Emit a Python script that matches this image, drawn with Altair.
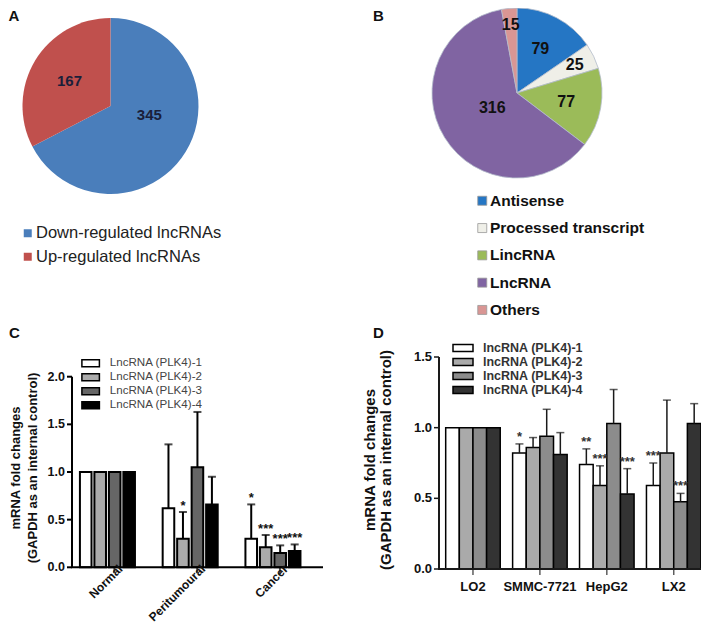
import altair as alt
import pandas as pd

FONT = "Liberation Sans, Arial, sans-serif"

# ---------------- Panel A ----------------
a_cats = ["Down-regulated lncRNAs", "Up-regulated lncRNAs"]
a_vals = [345, 167]
a_cols = ["#4a7ebb", "#c0504d"]

# ---------------- Panel B ----------------
b_cats = ["Antisense", "Processed transcript", "LincRNA", "LncRNA", "Others"]
b_vals = [79, 25, 77, 316, 15]
b_cols = ["#2576c4", "#efefe8", "#9bbb59", "#8064a2", "#d99694"]

# ---------------- Panel C ----------------
c_groups = ["Normal", "Peritumoural", "Cancer"]
c_series = ["LncRNA (PLK4)-1", "LncRNA (PLK4)-2", "LncRNA (PLK4)-3", "LncRNA (PLK4)-4"]
c_mean = [[1.0, 1.0, 1.0, 1.0],
          [0.62, 0.30, 1.05, 0.66],
          [0.30, 0.21, 0.15, 0.17]]
c_upper = [[None, None, None, None],
           [1.29, 0.58, 1.63, 0.95],
           [0.66, 0.34, 0.23, 0.24]]
c_stars = [["", "", "", ""],
           ["", "*", "", ""],
           ["*", "***", "***", "***"]]
c_cols = ["#ffffff", "#ababab", "#666666", "#000000"]
c_yticks = [0.0, 0.5, 1.0, 1.5, 2.0]

# ---------------- Panel D ----------------
d_groups = ["LO2", "SMMC-7721", "HepG2", "LX2"]
d_series = ["lncRNA (PLK4)-1", "lncRNA (PLK4)-2", "lncRNA (PLK4)-3", "lncRNA (PLK4)-4"]
d_mean = [[1.0, 1.0, 1.0, 1.0],
          [0.82, 0.86, 0.94, 0.81],
          [0.74, 0.59, 1.03, 0.53],
          [0.59, 0.82, 0.475, 1.03]]
d_upper = [[None, None, None, None],
           [0.885, 0.93, 1.13, 0.965],
           [0.85, 0.73, 1.27, 0.71],
           [0.75, 1.195, 0.535, 1.17]]
d_stars = [["", "", "", ""],
           ["*", "", "", ""],
           ["**", "***", "", "***"],
           ["***", "", "***", ""]]
d_cols = ["#ffffff", "#aaaaaa", "#8c8c8c", "#333333"]
d_yticks = [0.0, 0.5, 1.0, 1.5]

y_title = ["mRNA fold changes", "(GAPDH as an internal control)"]
letters = ["A", "B", "C", "D"]

one = pd.DataFrame({"i": [0]})


def long_df(groups, series, mean, upper, stars):
    rows = []
    for gi, g in enumerate(groups):
        for si, s in enumerate(series):
            rows.append({"g": g, "s": s, "v": mean[gi][si],
                         "hi": upper[gi][si], "star": stars[gi][si]})
    return pd.DataFrame(rows)


def pie(cats, vals, cols, cx, cy, rad, arc_kw, legend_kw, label_r, label_shift, label_kw):
    df = pd.DataFrame({"cat": cats, "n": vals, "k": list(range(len(cats)))})
    arc = alt.Chart(df).mark_arc(outerRadius=rad, **arc_kw).encode(
        theta=alt.Theta("n:Q", stack=True), order=alt.Order("k:Q"),
        x=alt.value(cx), y=alt.value(cy),
        color=alt.Color("cat:N", sort=cats, scale=alt.Scale(domain=cats, range=cols),
                        legend=alt.Legend(orient="none", title=None, padding=0,
                                          labelFont=FONT, labelLimit=400, **legend_kw)))
    txt = alt.Chart(df).transform_joinaggregate(total="sum(n)").transform_window(
        cum="sum(n)", sort=[alt.SortField("k")], frame=[None, 0]
    ).transform_calculate(
        ang=f"2*PI*(datum.cum - datum.n/2)/datum.total + ({label_shift})",
        r=label_r,
    ).mark_text(font=FONT, fontWeight="bold", **label_kw).encode(
        x=alt.value(cx), y=alt.value(cy),
        theta=alt.Theta("ang:Q", scale=None, stack=None),
        radius=alt.Radius("r:Q", scale=None), text="n:Q")
    return alt.layer(arc, txt)


pieA = pie(a_cats, a_vals, a_cols, 102.5, 98, 88, {},
           dict(legendX=11.5, legendY=217, symbolType="square", symbolSize=64,
                symbolStrokeWidth=0, labelFontSize=16.5, labelColor="#222",
                rowPadding=6.5, labelOffset=0),
           "datum.n > 200 ? 40 : 48", "datum.n > 200 ? -0.31 : 0",
           dict(fontSize=15, color="#1a1f3a"))

pieB = pie(b_cats, b_vals, b_cols, 509, 85, 85, dict(stroke="#b4bccb", strokeWidth=0.8),
           dict(legendX=466.5, legendY=185, symbolType="square", symbolSize=81,
                symbolStrokeColor="#999999", symbolStrokeWidth=0.8, labelFontSize=15.5,
                labelFontWeight="bold", labelColor="#111", rowPadding=10.3, labelOffset=0),
           "datum.n < 20 ? 68 : datum.n < 30 ? 64 : datum.n < 100 ? 50 : 29", "0",
           dict(fontSize=16, color="#111"))


# ---------- Bar panels ----------
def bar_panel(df, groups, series, cols, yticks, xrange, pin, pout, align, xoff_pad,
              yrange, axis_x, axis_right, stroke_w, line_col, tick_shift, tick_fs,
              title_fs, title_lh, title_x, title_y, legend_kw, xlab_kw, star_dy, star_col):
    xsc = alt.Scale(range=xrange, paddingInner=pin, paddingOuter=pout, align=align)
    ysc = alt.Scale(domain=[yticks[0], yticks[-1]], range=yrange, nice=False, zero=True)
    osc = alt.Scale(paddingInner=xoff_pad, paddingOuter=0)
    X = alt.X("g:N", sort=groups, scale=xsc, axis=None)
    XO = alt.XOffset("s:N", sort=series, scale=osc)
    Y = alt.Y("v:Q", scale=ysc, axis=None)
    Yhi = alt.Y("hi:Q", scale=ysc, axis=None)
    base = alt.Chart(df)
    bars = base.mark_bar(stroke="black", strokeWidth=stroke_w).encode(
        x=X, xOffset=XO, y=Y,
        color=alt.Color("s:N", sort=series, scale=alt.Scale(domain=series, range=cols),
                        legend=alt.Legend(orient="none", title=None, padding=0,
                                          symbolStrokeColor="black", symbolStrokeWidth=1.5,
                                          labelFont=FONT, labelLimit=400, **legend_kw)))
    err = base.transform_filter("isValid(datum.hi)").mark_rule(
        color=line_col, strokeWidth=stroke_w).encode(x=X, xOffset=XO, y=Y, y2="hi:Q")
    cap = base.transform_filter("isValid(datum.hi)").mark_tick(
        color=line_col, thickness=stroke_w, size=8, orient="horizontal").encode(
        x=X, xOffset=XO, y=Yhi)
    star = base.transform_filter("datum.star != ''").mark_text(
        font=FONT, fontSize=13, fontWeight="bold", color=star_col, baseline="alphabetic",
        dy=star_dy).encode(x=X, xOffset=XO, y=Yhi, text="star:N")

    # axes drawn from the tick values through the same scales
    tdf = pd.DataFrame({"t": yticks})
    gdf = pd.DataFrame({"g": groups})
    Yt = alt.Y("t:Q", scale=ysc, axis=None)
    y_dom = alt.Chart(tdf).mark_rule(color=line_col, strokeWidth=2).encode(
        x=alt.value(axis_x), y=alt.Y("min(t):Q", scale=ysc, axis=None), y2="max(t):Q")
    y_tk = alt.Chart(tdf).mark_rule(color=line_col, strokeWidth=stroke_w).encode(
        x=alt.value(axis_x - 5), x2=alt.value(axis_x), y=Yt)
    y_lb = alt.Chart(tdf).mark_text(
        font=FONT, fontSize=tick_fs, fontWeight="bold", color="#111", align="right",
        baseline="middle").encode(
        x=alt.value(axis_x - 7), y=Yt, text=alt.Text("t:Q", format=".1f"))
    x_dom = alt.Chart(tdf).transform_filter("datum.t == 0").mark_rule(
        color=line_col, strokeWidth=2).encode(
        x=alt.value(axis_x - 1), x2=alt.value(axis_right), y=Yt)
    x_tk = alt.Chart(gdf).mark_tick(
        color=line_col, thickness=stroke_w, size=6, orient="vertical", yOffset=3,
        xOffset=tick_shift).encode(
        x=X, y=alt.YDatum(0, scale=ysc, axis=None))
    x_lb = alt.Chart(gdf).mark_text(
        font=FONT, fontWeight="bold", color="#111", **xlab_kw).encode(
        x=X, y=alt.YDatum(0, scale=ysc, axis=None), text="g:N")
    title = alt.Chart(one).mark_text(
        text=y_title, font=FONT, fontSize=title_fs, fontWeight="bold", color="#111",
        angle=270, align="center", baseline="middle", lineHeight=title_lh).encode(
        x=alt.value(title_x), y=alt.value(title_y))
    return alt.layer(bars, err, cap, star, y_dom, y_tk, y_lb, x_dom, x_tk, x_lb, title)


dfC = long_df(c_groups, c_series, c_mean, c_upper, c_stars)
dfD = long_df(d_groups, d_series, d_mean, d_upper, d_stars)

panelC = bar_panel(
    dfC, c_groups, c_series, c_cols, c_yticks, [64, 315], 0.335, 0.184, 0.26, 0.2,
    [559.3, 368.7], 64, 315, 2, "black", 7, 12.5, 13, 17, 8, 460,
    dict(legendX=76.85, legendY=349.4, symbolType="M-2.5,-1H2.5V1H-2.5Z", symbolSize=49,
         labelFontSize=11.6, labelColor="#444", rowPadding=0, labelOffset=13.35),
    dict(angle=315, align="right", baseline="middle", fontSize=12, dx=9.5, dy=9),
    -2, "#111")

panelD = bar_panel(
    dfD, d_groups, d_series, d_cols, d_yticks, [431, 693], 0.185, 0.05, 1.0, 0.0,
    [561, 349], 431, 693, 1.5, "#1a1a1a", 0, 13, 15, 16, 362, 452,
    dict(legendX=448.75, legendY=333.75, symbolType="M-2.5,-0.85H2.5V0.85H-2.5Z",
         symbolSize=64, labelFontSize=12.5, labelFontWeight="bold", labelColor="#333",
         rowPadding=0, labelOffset=13.75),
    dict(align="center", baseline="top", fontSize=13, dy=12),
    -3, "#333")

# ---------- panel letters ----------
letter_pos = {"A": (0.5, 13), "B": (365, 12.5), "C": (1, 330), "D": (365, 330)}
letter_layers = [
    alt.Chart(one).mark_text(
        text=t, font=FONT, fontSize=15, fontWeight="bold", color="#111", align="left",
        baseline="alphabetic").encode(x=alt.value(px), y=alt.value(py))
    for t, (px, py) in letter_pos.items()
]

chart = alt.layer(pieA, pieB, panelC, panelD, *letter_layers).resolve_scale(
    x="independent", y="independent", color="independent", theta="independent",
    radius="independent", xOffset="independent"
).properties(
    width=693, height=623, autosize=alt.AutoSizeParams(type="none"), padding=0
).configure_view(strokeWidth=0)

chart.save("out.html", embed_options={"renderer": "svg", "actions": False})
